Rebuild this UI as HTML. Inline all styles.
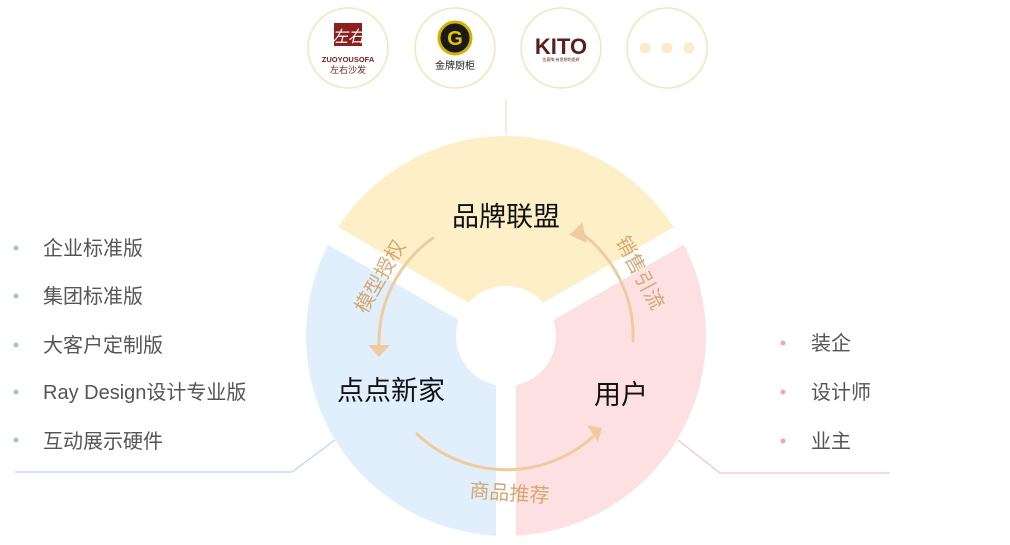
<!DOCTYPE html>
<html><head><meta charset="utf-8"><style>
body{margin:0;width:1010px;height:540px;background:#fff;overflow:hidden;font-family:"Liberation Sans","Noto Sans CJK SC",sans-serif}
</style></head><body>
<svg width="1010" height="540" viewBox="0 0 1010 540" xmlns="http://www.w3.org/2000/svg" style="font-family:'Liberation Sans','Noto Sans CJK SC',sans-serif">
<g fill="#fff" stroke="#f6e3b8" stroke-width="1.5">
<circle cx="348" cy="48" r="40"/><circle cx="455" cy="48" r="40"/><circle cx="561" cy="48" r="40"/><circle cx="667" cy="48" r="40"/>
</g>
<rect x="334" y="23" width="28" height="23" fill="#8b1e1e"/>
<text x="348" y="42" font-size="16" fill="#fff" text-anchor="middle" font-style="italic">左右</text>
<text x="348" y="62" font-size="7.5" fill="#7a1e1e" text-anchor="middle" font-weight="bold">ZUOYOUSOFA</text>
<text x="348" y="73" font-size="9" fill="#7a1e1e" text-anchor="middle">左右沙发</text>
<circle cx="455" cy="38" r="16" fill="#1a1a1a" stroke="#d4b000" stroke-width="3"/>
<text x="455" y="45" font-size="20" fill="#e8c400" text-anchor="middle" font-weight="bold">G</text>
<text x="455" y="69" font-size="10" fill="#222" text-anchor="middle">金牌厨柜</text>
<text x="561" y="54" font-size="22" fill="#5a1f1c" text-anchor="middle" font-weight="bold">KITO</text>
<text x="561" y="61" font-size="4" fill="#5a1f1c" text-anchor="middle">金意陶·有思想的瓷砖</text>
<g fill="#fdeccb"><circle cx="645" cy="48" r="5.5"/><circle cx="667" cy="48" r="5.5"/><circle cx="689" cy="48" r="5.5"/></g>
<line x1="506" y1="99" x2="506" y2="135" stroke="#ecd9b6" stroke-width="1"/>
<path d="M506 336 L332.8 236 A200 200 0 0 1 679.2 236 Z" fill="#fdf0c8"/>
<path d="M506 336 L332.8 236 A200 200 0 0 0 506 536 Z" fill="#e1effd"/>
<path d="M506 336 L679.2 236 A200 200 0 0 1 506 536 Z" fill="#fde0e1"/>
<g stroke="#fff" stroke-width="20">
<line x1="506" y1="336" x2="506" y2="545"/>
<line x1="506" y1="336" x2="316" y2="226"/>
<line x1="506" y1="336" x2="696" y2="226"/>
</g>
<circle cx="506" cy="336" r="50" fill="#fff"/>
<g fill="none" stroke="#efcca0" stroke-width="3" stroke-linecap="round">
<path d="M433 238 A128 128 0 0 0 379 346"/>
<path d="M633 341 A128 128 0 0 0 577 230"/>
<path d="M417 434 A130 130 0 0 0 596 434"/>
</g>
<g fill="#efcca0">
<polygon points="368,345 390,345 379,357"/>
<polygon points="569,234 583,223 586,244" transform="rotate(-5 577 232)"/>
<polygon points="587,425 602,428 598,442"/>
</g>
<g font-size="20" fill="#d6a873">
<text transform="translate(386,280) rotate(-60)" text-anchor="middle">模型授权</text>
<text transform="translate(634,276) rotate(62)" text-anchor="middle">销售引流</text>
<text transform="translate(509,500) rotate(4)" text-anchor="middle">商品推荐</text>
</g>
<g font-size="27" fill="#111" text-anchor="middle">
<text x="506" y="226">品牌联盟</text>
<text x="391" y="400">点点新家</text>
<text x="621" y="404">用户</text>
</g>
<g fill="#9cc4ef"><circle cx="16" cy="248" r="2.5"/><circle cx="16" cy="296" r="2.5"/><circle cx="16" cy="345" r="2.5"/><circle cx="16" cy="392" r="2.5"/><circle cx="16" cy="440" r="2.5"/></g>
<g font-size="20" fill="#555">
<text x="43" y="255">企业标准版</text>
<text x="43" y="303">集团标准版</text>
<text x="43" y="352">大客户定制版</text>
<text x="43" y="399">Ray Design设计专业版</text>
<text x="43" y="448">互动展示硬件</text>
</g>
<polyline points="15,472 292,472 335,440" fill="none" stroke="#a8cdf3" stroke-width="1"/>
<g fill="#f3a7a9"><circle cx="783" cy="343" r="2.5"/><circle cx="783" cy="392" r="2.5"/><circle cx="783" cy="441" r="2.5"/></g>
<g font-size="20" fill="#555">
<text x="811" y="350">装企</text>
<text x="811" y="399">设计师</text>
<text x="811" y="448">业主</text>
</g>
<polyline points="890,473 720,473 678,440" fill="none" stroke="#f3b5b7" stroke-width="1"/>
</svg>
</body></html>
